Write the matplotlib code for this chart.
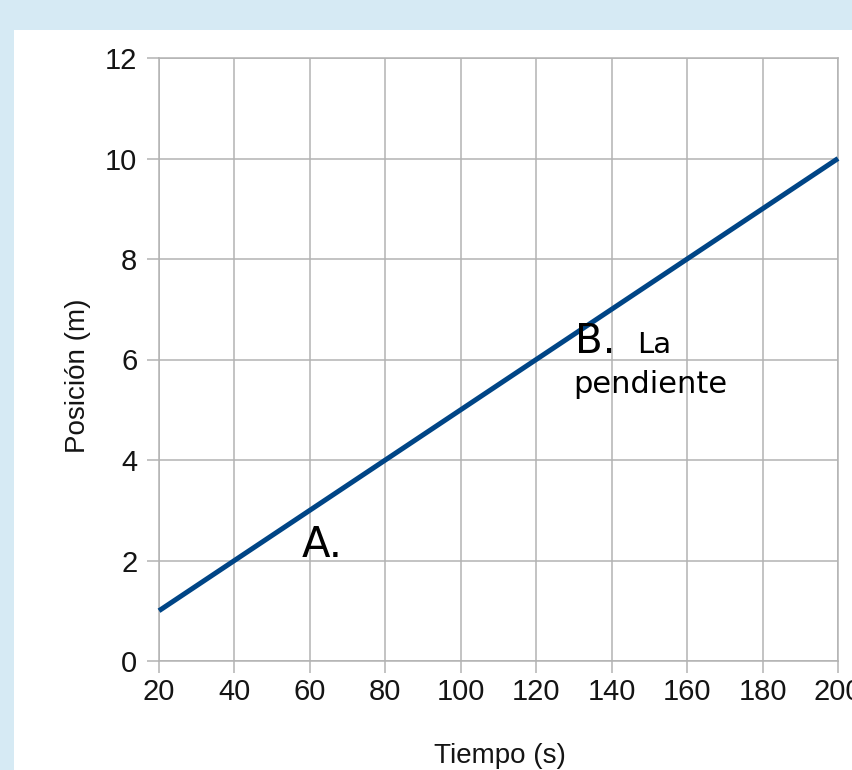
import matplotlib
matplotlib.use("Agg")
import matplotlib.pyplot as plt
from matplotlib.patches import Rectangle

# Data
tiempo = [20, 200]
posicion = [1, 10]
x_ticks = [20, 40, 60, 80, 100, 120, 140, 160, 180, 200]
y_ticks = [0, 2, 4, 6, 8, 10, 12]
x_label = "Tiempo (s)"
y_label = "Posición (m)"

W, H = 852, 770
fig = plt.figure(figsize=(W / 100, H / 100), dpi=100)
fig.patch.set_facecolor("#d6eaf4")
panel = Rectangle((14 / W, 0), 1 - 14 / W, (H - 30) / H,
                  transform=fig.transFigure, facecolor="white",
                  edgecolor="none", zorder=-10)
fig.add_artist(panel)

ax = fig.add_axes([159 / W, (H - 661) / H, 679 / W, (661 - 58) / H])
ax.set_zorder(1)
ax.set_facecolor("white")

ax.plot(tiempo, posicion, color="#004586", linewidth=3.6,
        solid_capstyle="butt", zorder=3, clip_on=False)

ax.set_xlim(20, 200)
ax.set_ylim(0, 12)
ax.set_xticks(x_ticks)
ax.set_yticks(y_ticks)

grid_c = "#b3b3b3"
ax.grid(True, color=grid_c, linewidth=1.1)
ax.set_axisbelow(True)
for s in ax.spines.values():
    s.set_color(grid_c)
    s.set_linewidth(1.1)

ax.tick_params(axis="both", direction="out", length=8.6, width=1.1,
               color=grid_c, labelcolor="#141414", labelsize=21)
ax.tick_params(axis="y", pad=7)
ax.tick_params(axis="x", pad=4)
for lab in ax.get_xticklabels() + ax.get_yticklabels():
    lab.set_family(["Liberation Sans", "DejaVu Sans"])

ax.set_xlabel(x_label, family=["Liberation Sans", "DejaVu Sans"], size=20,
              color="#141414", va="baseline")
ax.xaxis.set_label_coords(0.502, -0.169)
ax.set_ylabel(y_label, family=["Liberation Sans", "DejaVu Sans"], size=20,
              color="#141414", va="center", ha="center")
ax.yaxis.set_label_coords(-0.120, 0.473)

txt = dict(family="DejaVu Sans", color="black", va="baseline", ha="left", zorder=5)
ax.text(57.9, 2.07, "A.", size=30, **txt)
ax.text(130.3, 6.13, "B.", size=29, **txt)
ax.text(146.7, 6.13, "La", size=21, **txt)
ax.text(129.8, 5.33, "pendiente", size=22, **txt)

fig.savefig("out.png", dpi=100, facecolor=fig.get_facecolor())
